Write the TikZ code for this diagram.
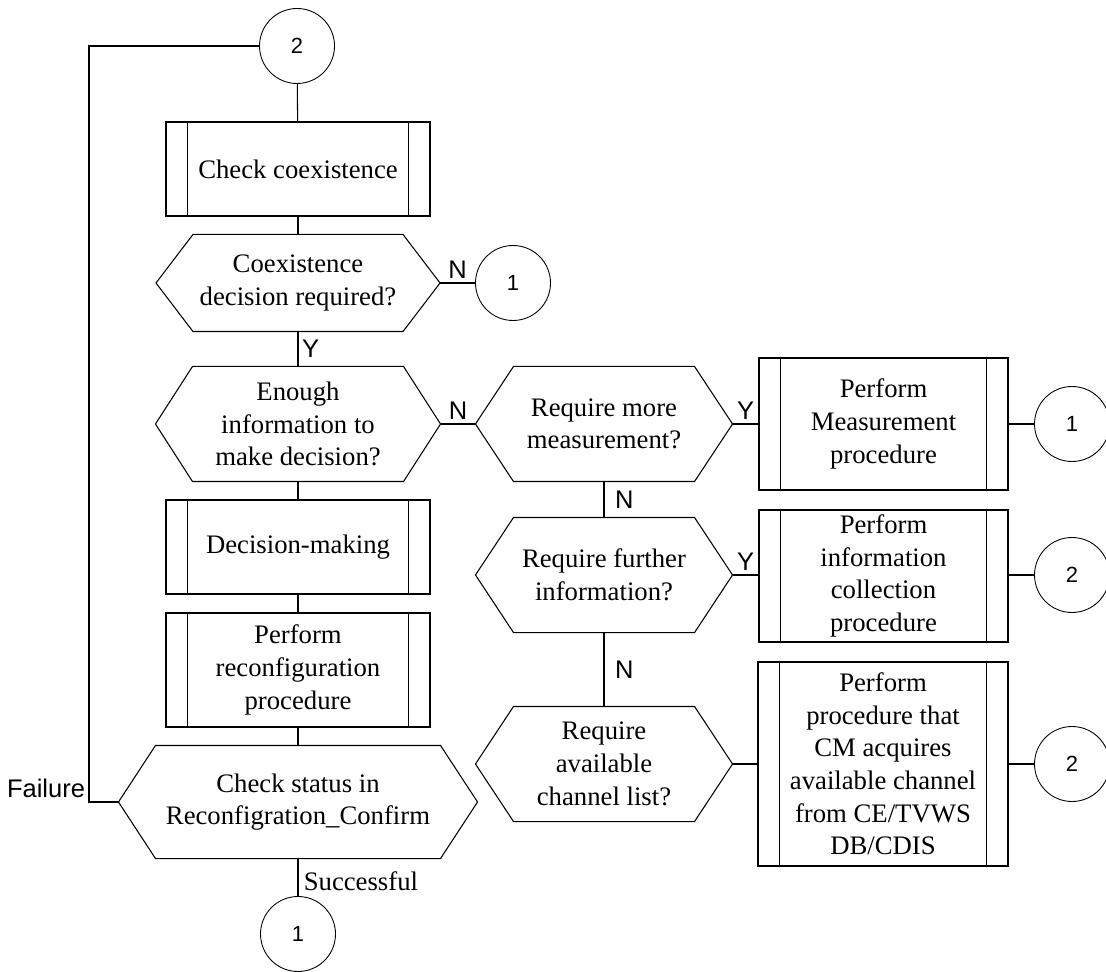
\documentclass[tikz,border=0pt]{standalone}
\usepackage{fontspec}
\setmainfont{Liberation Serif}
\newfontfamily\labelfont{Liberation Sans}

% outline of a decision node and the side bars of a sub-procedure box
\newcommand{\hexdraw}[2][0.74cm]{\draw ([xshift=#1]#2.north west) -- ([xshift=-#1]#2.north east) -- (#2.east) -- ([xshift=-#1]#2.south east) -- ([xshift=#1]#2.south west) -- (#2.west) -- cycle;}
\newcommand{\subbars}[1]{\draw ([xshift=0.44cm]#1.north west) -- ([xshift=0.44cm]#1.south west) ([xshift=-0.44cm]#1.north east) -- ([xshift=-0.44cm]#1.south east);}

\tikzset{
  base/.style={font=\fontsize{15.2}{18.6}\selectfont, align=center, inner sep=0pt},
  procbox/.style={base, draw, minimum width=5.28cm, minimum height=1.88cm},
  hexbox/.style={base, minimum width=5.12cm, minimum height=2.28cm},
  conn/.style={circle, draw, line width=0.5pt, minimum size=1.5cm, inner sep=0pt, font=\labelfont\fontsize{12.5}{14}\selectfont},
  lbl/.style={font=\labelfont\fontsize{14.5}{16}\selectfont, inner sep=2pt},
}

\begin{document}
\begin{tikzpicture}[line width=0.6pt]
  \useasboundingbox (0,0) rectangle (22.12,-19.44);

  % left column
  \node[conn] (c2top) at (5.94,-0.92) {2};
  \node[procbox] (chk) at (5.96,-3.38) {Check coexistence};
  \node[hexbox, minimum width=5.66cm, minimum height=1.92cm] (dec1) at (5.96,-5.66) {Coexistence\\decision required?};
  \node[conn] (c1a) at (10.26,-5.66) {1};
  \node[hexbox, minimum width=5.68cm] (enough) at (5.96,-8.48) {Enough\\information to\\make decision?};
  \node[procbox] (decide) at (5.96,-10.94) {Decision-making};
  \node[procbox, minimum height=2.28cm] (reconf) at (5.96,-13.40) {Perform\\reconfiguration\\procedure};
  \node[hexbox, minimum width=7.16cm, minimum height=2.24cm] (status) at (5.96,-16.04) {Check status in\\Reconfigration\_Confirm};
  \node[conn] (c1c) at (5.96,-18.68) {1};
  \coordinate (loop) at (1.78,-0.92);

  % right columns
  \node[hexbox] (more) at (12.08,-8.48) {Require more\\measurement?};
  \node[procbox, minimum width=4.98cm, minimum height=2.64cm] (meas) at (17.67,-8.48) {Perform\\Measurement\\procedure};
  \node[conn] (c1b) at (21.44,-8.48) {1};
  \node[hexbox] (further) at (12.08,-11.5) {Require further\\information?};
  \node[procbox, minimum width=4.98cm, minimum height=2.64cm] (coll) at (17.67,-11.52) {Perform\\information\\collection\\procedure};
  \node[conn] (c2b) at (21.44,-11.5) {2};
  \node[hexbox] (avail) at (12.08,-15.28) {Require\\available\\channel list?};
  \node[procbox, minimum width=5.0cm, minimum height=4.08cm] (acq) at (17.66,-15.28) {Perform\\procedure that\\CM acquires\\available channel\\from CE/TVWS\\DB/CDIS};
  \node[conn] (c2c) at (21.44,-15.28) {2};

  \hexdraw{dec1}
  \hexdraw{enough}
  \hexdraw{status}
  \hexdraw[0.76cm]{more}
  \hexdraw[0.76cm]{further}
  \hexdraw[0.76cm]{avail}
  \subbars{chk}
  \subbars{decide}
  \subbars{reconf}
  \subbars{meas}
  \subbars{coll}
  \subbars{acq}

  % connectors
  \draw (c2top) -- (chk);
  \draw (chk) -- (dec1);
  \draw (dec1.east) -- node[lbl, above] {N} (c1a);
  \draw (dec1) -- node[lbl, right] {Y} (enough);
  \draw (enough) -- (decide);
  \draw (decide) -- (reconf);
  \draw (reconf) -- (status);
  \draw (status) -- node[base, right, pos=0.6, xshift=3pt] {Successful} (c1c);
  \draw (status.west) -| node[lbl, above left, pos=0.5] {Failure} (loop) -- (c2top);
  \draw (enough.east) -- node[lbl, above] {N} (more.west);
  \draw (more.east) -- node[lbl, above] {Y} (meas);
  \draw (meas) -- (c1b);
  \draw (more) -- node[lbl, right, xshift=4pt] {N} (further);
  \draw (further.east) -- node[lbl, above] {Y} (coll.west |- further.east);
  \draw (coll.east |- c2b) -- (c2b);
  \draw (further) -- node[lbl, right, xshift=4pt] {N} (avail);
  \draw (avail.east) -- (acq);
  \draw (acq) -- (c2c);
\end{tikzpicture}
\end{document}
